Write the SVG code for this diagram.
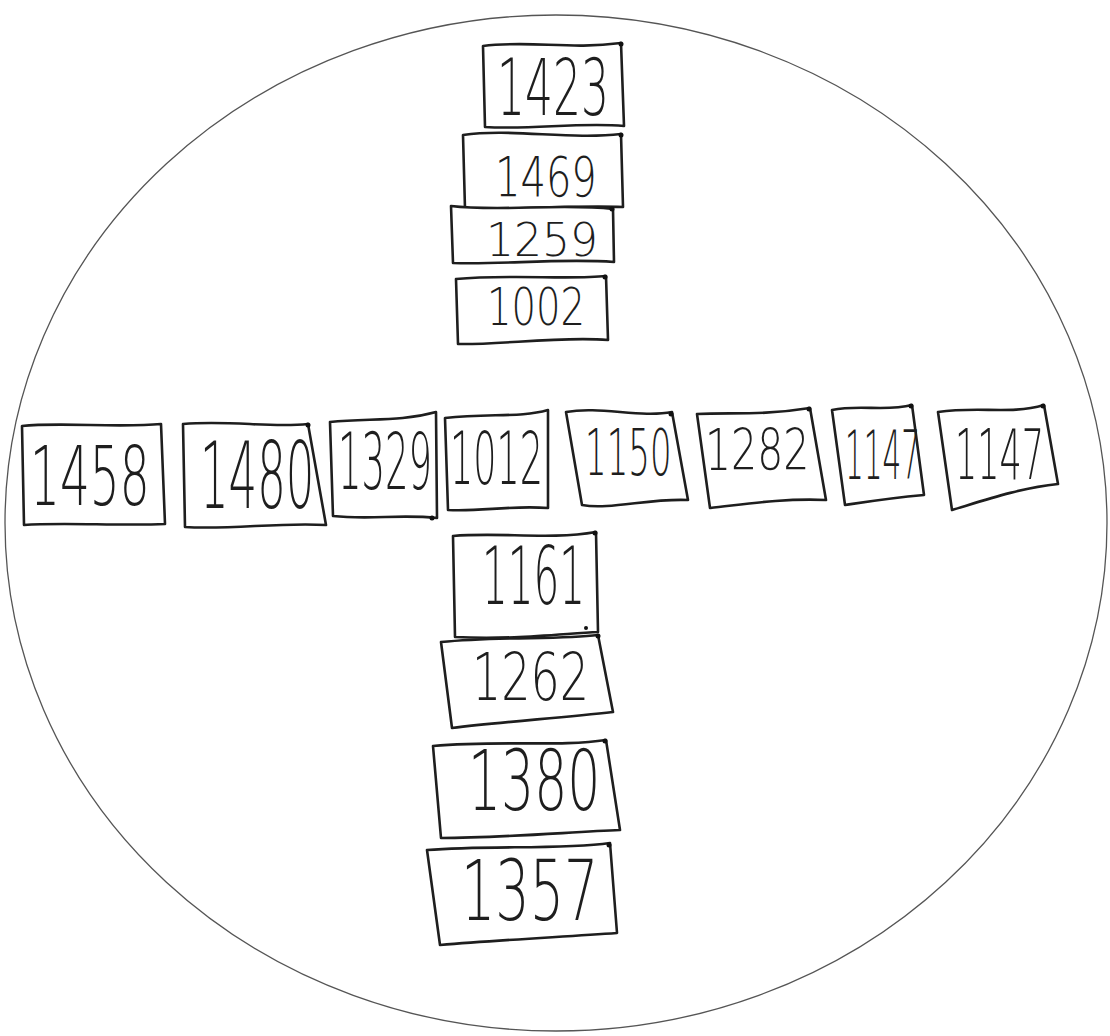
<svg xmlns="http://www.w3.org/2000/svg" width="1110" height="1036" viewBox="0 0 1110 1036">
<style>
.b{fill:#fff;stroke:#1e1e1e;stroke-width:2.6;stroke-linejoin:round}
.t{font-family:"DejaVu Sans","Liberation Sans",sans-serif;font-weight:300;fill:#1e1e1e}
.d{fill:#111}
</style>
<rect width="1110" height="1036" fill="#fff"/>
<ellipse cx="556" cy="523" rx="551" ry="508" fill="none" stroke="#555" stroke-width="1.3"/>
<g id="connectors"/>
<g id="n1423"><path class="b" d="M483,46 C530,40 570,50 621,43 L624,126 C580,122 530,130 485,127 Z"/><text class="t" transform="translate(497,115) scale(1,1.8)" font-size="44">1423</text><circle class="d" cx="621" cy="44" r="2.5"/></g>
<g id="n1469"><path class="b" d="M463,135 C510,128 570,140 621,134 L623,207 C570,205 510,210 465,209 Z"/><text class="t" transform="translate(495,196) scale(1,1.4)" font-size="40">1469</text><circle class="d" cx="621" cy="135" r="2.5"/></g>
<g id="n1259"><path class="b" d="M451,206 C500,212 560,203 613,209 L614,262 C560,258 500,265 453,263 Z"/><text class="t" transform="translate(486,256) scale(1,1.05)" font-size="44">1259</text><circle class="d" cx="612" cy="209" r="2.5"/></g>
<g id="n1002"><path class="b" d="M456,279 C510,274 570,280 606,276 L608,340 C560,336 500,345 458,344 Z"/><text class="t" transform="translate(487,325) scale(1,1.35)" font-size="38.5">1002</text><circle class="d" cx="605" cy="277" r="2.5"/></g>
<g id="n1458"><path class="b" d="M22,426 C60,422 120,428 161,424 L165,524 C120,526 60,522 24,525 Z"/><text class="t" transform="translate(30,505) scale(1,1.74)" font-size="47">1458</text></g>
<g id="n1480"><path class="b" d="M183,424 C230,420 270,428 308,424 L326,525 C280,522 230,530 185,527 Z"/><text class="t" transform="translate(200,508) scale(1,2.05)" font-size="45">1480</text><circle class="d" cx="308" cy="425" r="2.5"/></g>
<g id="n1329"><path class="b" d="M330,422 C370,418 400,422 436,412 L437,518 C400,514 370,520 333,516 Z"/><text class="t" transform="translate(338,489) scale(1,2.1)" font-size="37">1329</text><circle class="d" cx="432" cy="518" r="2.5"/></g>
<g id="n1012"><path class="b" d="M445,418 C490,413 520,418 548,410 L548,508 C510,505 480,512 448,510 Z"/><text class="t" transform="translate(450,484) scale(1,2.0)" font-size="36.5">1012</text></g>
<g id="n1150"><path class="b" d="M566,412 C600,406 640,418 672,412 L688,500 C650,498 610,510 582,505 Z"/><text class="t" transform="translate(585,475) scale(1,1.9)" font-size="34">1150</text><circle class="d" cx="671" cy="414" r="2.5"/></g>
<g id="n1282"><path class="b" d="M697,414 C730,412 760,416 810,408 L826,500 C780,498 740,505 710,508 Z"/><text class="t" transform="translate(705,470) scale(1,1.4)" font-size="41">1282</text><circle class="d" cx="809" cy="409" r="2.5"/></g>
<g id="n1147a"><path class="b" d="M832,410 C860,404 885,412 912,405 L924,495 C890,498 865,502 845,505 Z"/><text class="t" transform="translate(845,479) scale(1,2.3)" font-size="29.5">1147</text><circle class="d" cx="911" cy="406" r="2.5"/></g>
<g id="n1147b"><path class="b" d="M938,412 C980,406 1010,415 1044,405 L1058,484 C1020,488 985,500 952,510 Z"/><text class="t" transform="translate(955,479) scale(1,2.0)" font-size="35">1147</text><circle class="d" cx="1043" cy="406" r="2.5"/></g>
<g id="n1161"><path class="b" d="M453,536 C500,532 550,540 596,532 L598,632 C560,634 510,640 455,637 Z"/><text class="t" transform="translate(482,604) scale(1,2.0)" font-size="40.5">1161</text><circle class="d" cx="595" cy="533" r="2.5"/><circle class="d" cx="586" cy="628" r="2"/></g>
<g id="n1262"><path class="b" d="M441,642 C500,636 560,640 598,635 L613,712 C560,718 500,722 452,728 Z"/><text class="t" transform="translate(472,700) scale(1,1.45)" font-size="46">1262</text><circle class="d" cx="598" cy="636" r="2.5"/></g>
<g id="n1380"><path class="b" d="M433,746 C500,740 560,747 606,740 L620,830 C570,832 500,838 441,838 Z"/><text class="t" transform="translate(468,810) scale(1,1.6)" font-size="52">1380</text><circle class="d" cx="605" cy="741" r="2.5"/></g>
<g id="n1357"><path class="b" d="M427,850 C490,845 560,850 610,843 L617,933 C560,937 500,940 440,945 Z"/><text class="t" transform="translate(461,920) scale(1,1.55)" font-size="54">1357</text><circle class="d" cx="609" cy="845" r="2.5"/></g>
</svg>
